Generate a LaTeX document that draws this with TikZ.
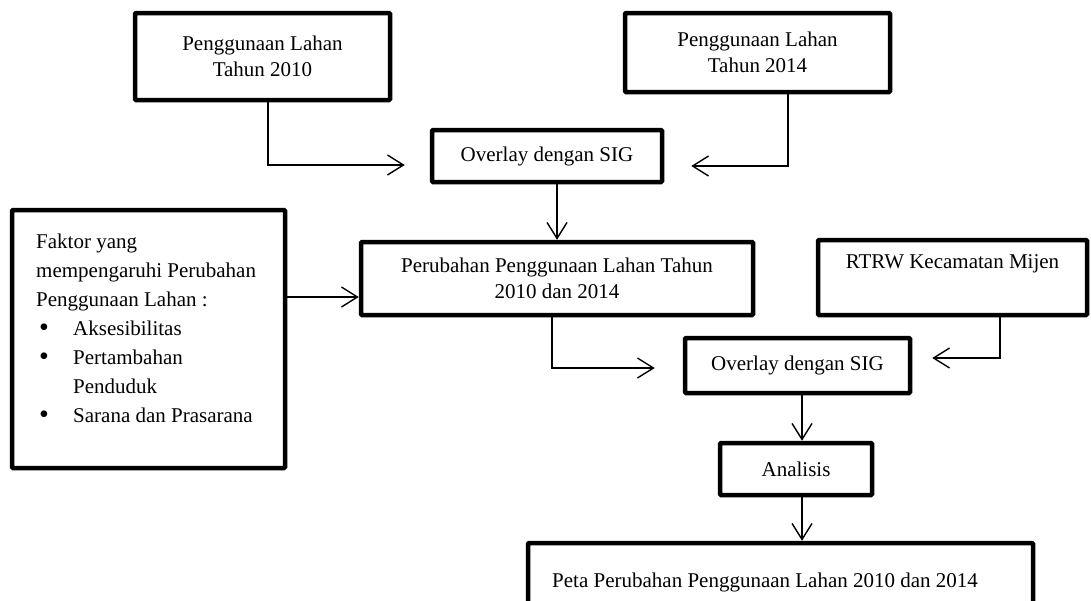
\documentclass[tikz,border=0pt]{standalone}
\usepackage{fontspec}
\setmainfont{Liberation Serif}
\usetikzlibrary{arrows.meta,calc}
\newcommand\fsz{\fontsize{21}{26.5}\selectfont}
\newcommand\fszf{\fontsize{21}{29}\selectfont}
\newcommand\mybul{\hspace*{3pt}\makebox[34pt][l]{\raisebox{-1pt}{\fontsize{28}{28}\selectfont\textbullet}}}
\tikzset{
  box/.style={draw=black, line width=4.5pt, rounded corners=1pt, fill=white, align=center, inner sep=0pt, font=\fsz},
  arr/.style={draw=black, line width=1.4pt, -{Straight Barb[length=16pt, width=20pt]}},
  plain/.style={inner sep=0pt, font=\fsz}
}
\begin{document}
\begin{tikzpicture}[x=1pt,y=-1pt]
\useasboundingbox (0,0) rectangle (1091,600);
\clip (0,0) rectangle (1091,600);
\fill[white] (0,0) rectangle (1091,600);

% boxes
\node[box, minimum width=255, minimum height=87] (b10) at (262.5,56.5) {Penggunaan Lahan\\Tahun 2010};
\node[box, minimum width=265, minimum height=79] (b14) at (757.5,52.5) {Penggunaan Lahan\\Tahun 2014};
\node[box, minimum width=230, minimum height=52] (ov1) at (547,156) {Overlay dengan SIG};
\node[box, minimum width=392, minimum height=73] (perub) at (557,278.5) {Perubahan Penggunaan Lahan Tahun\\2010 dan 2014};
\node[box, minimum width=273, minimum height=258] (faktor) at (148.5,339) {};
\node[plain, anchor=north west, align=left, font=\fszf] (ftext) at (36,234) {Faktor yang\\mempengaruhi Perubahan\\Penggunaan Lahan :\\\mybul Aksesibilitas\\\mybul Pertambahan\\\hspace*{37pt}Penduduk\\\mybul Sarana dan Prasarana};
\node[box, minimum width=269, minimum height=75] (rtrw) at (952.5,277.5) {};
\node[plain] (rtrwtext) at ($(rtrw.north)+(0,26)$) {RTRW Kecamatan Mijen};
\node[box, minimum width=225, minimum height=55] (ov2) at (797.5,365.5) {Overlay dengan SIG};
\node[box, minimum width=152, minimum height=52] (anal) at (796,469) {Analisis};
\node[box, minimum width=505, minimum height=107] (peta) at (780.5,596.5) {};
\node[plain, anchor=west] (petatext) at (552,582) {Peta Perubahan Penggunaan Lahan 2010 dan 2014};

% connectors
\draw[arr] ($(b10.south)+(5.5,0)$) |- ($(ov1.west)+(-25,9)$);
\draw[arr] ($(b14.south)+(30.5,0)$) |- ($(ov1.east)+(27,10)$);
\draw[arr] (ov1.south -| perub.north) -- (perub.north);
\coordinate (fin) at ($(perub.west)+(0,18.5)$);
\draw[arr] (faktor.east |- fin) -- (fin);
\draw[arr] ($(perub.south)+(-5,0)$) |- ($(ov2.west)+(-28,2.5)$);
\draw[arr] ($(rtrw.south)+(47.5,0)$) |- ($(ov2.east)+(20,-7.5)$);
\coordinate (o2s) at ($(ov2.south)+(4.5,0)$);
\draw[arr] (o2s) -- (o2s |- anal.north);
\coordinate (as) at ($(anal.south)+(6,0)$);
\draw[arr] (as) -- (as |- peta.north);
\end{tikzpicture}
\end{document}
